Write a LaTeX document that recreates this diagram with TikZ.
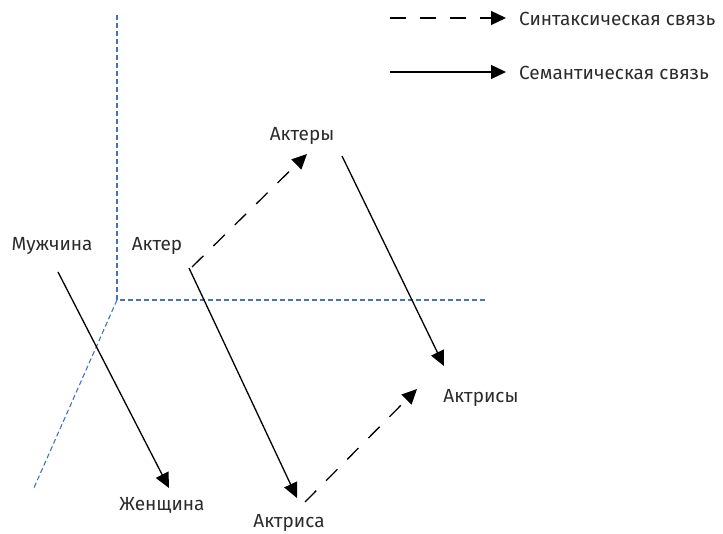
\documentclass[tikz,border=0pt]{standalone}
\usepackage{fontspec}
\setmainfont{Fira Sans}
\usetikzlibrary{arrows.meta}
\definecolor{axisblue}{HTML}{4472C4}
\definecolor{txt}{HTML}{2B2B2B}
\tikzset{
  word/.style={text=txt, font=\fontsize{19}{22}\selectfont, inner sep=0pt},
  axis/.style={axisblue, line width=1.1pt, dash pattern=on 5pt off 3pt},
  sem/.style={black, line width=1.3pt, -{Triangle[length=15pt,width=14pt]}},
  syn/.style={sem, dash pattern=on 16pt off 14pt},
}
\begin{document}
\begin{tikzpicture}[x=1pt,y=-1pt]
\useasboundingbox (0,0) rectangle (723,534);

% axes
\coordinate (o) at (117,300);
\coordinate (ay) at (117,15);
\coordinate (ax) at (487,300);
\coordinate (az) at (33,490);
\draw[axis] (ay) -- (o) -- (ax);
\draw[axis] (o) -- (az);

% legend
\coordinate (l1a) at (390,18);
\coordinate (l1b) at (506,18);
\coordinate (l2a) at (390,72);
\coordinate (l2b) at (506,72);
\draw[syn] (l1a) -- (l1b);
\draw[sem] (l2a) -- (l2b);
\node[word, anchor=west] (lsyn) at (519,19) {Синтаксическая связь};
\node[word, anchor=west] (lsem) at (519,73) {Семантическая связь};

% words
\node[word] (man) at (52,246) {Мужчина};
\node[word] (actor) at (157,246) {Актер};
\node[word] (actors) at (302,136) {Актеры};
\node[word] (actrs) at (481,398) {Актрисы};
\node[word] (woman) at (162,505) {Женщина};
\node[word] (actr) at (289,523) {Актриса};

% connector ends
\coordinate (man-o) at (58,272);
\coordinate (woman-i) at (169,488);
\coordinate (actor-o1) at (189,268);
\coordinate (actr-i) at (297,498);
\coordinate (actor-o2) at (192,267);
\coordinate (actors-i) at (307,154);
\coordinate (actors-o) at (342,156);
\coordinate (actrs-i1) at (444,366);
\coordinate (actr-o) at (305,502);
\coordinate (actrs-i2) at (417,389);

\draw[sem] (man-o) -- (woman-i);
\draw[sem] (actor-o1) -- (actr-i);
\draw[syn] (actor-o2) -- (actors-i);
\draw[sem] (actors-o) -- (actrs-i1);
\draw[syn] (actr-o) -- (actrs-i2);
\end{tikzpicture}
\end{document}
